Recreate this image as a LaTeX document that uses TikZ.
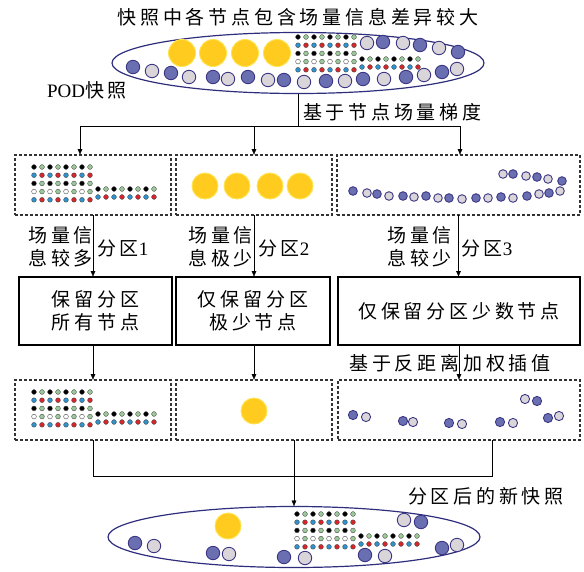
\documentclass[tikz,border=0pt]{standalone}
\usepackage{fontspec}
\setmainfont{Noto Sans CJK SC}[LetterSpace=20]
\newfontfamily\lat{Liberation Serif}
\usetikzlibrary{positioning}
\usetikzlibrary{arrows.meta}
\usetikzlibrary{shapes}
\usepackage{xcolor}
\definecolor{rimc}{HTML}{2F2E7D}
\definecolor{ringline}{HTML}{3C3784}
\definecolor{ringblue}{HTML}{6A6FB1}
\definecolor{ringgrey}{HTML}{D9D5D8}
\definecolor{sunfill}{HTML}{FFCB1F}
\definecolor{sunline}{HTML}{FFE34D}
\definecolor{dotgreen}{HTML}{9CC99A}
\definecolor{dotblue}{HTML}{2E93CF}
\definecolor{dotred}{HTML}{D7262B}
\tikzset{
	-{Latex[length=6pt,width=5pt]},
	x=1pt, y=-1pt,
	line width=1pt,
	every node/.style={font=\fontsize{19}{23}\selectfont, inner sep=0pt, outer sep=0pt},
	snapshot/.style={ellipse, draw=rimc, line width=1.2pt, minimum width=372pt, minimum height=61pt},
	zone/.style={draw=black!80, dash pattern=on 3pt off 2pt, line width=1.2pt, minimum height=60pt},
	procbox/.style={draw, line width=1.2pt, minimum height=68pt, align=center},
	ring/.style={draw=ringline, line width=0.9pt},
	sun/.style={draw=sunline, fill=sunfill, line width=0.9pt},
	smalldot/.style={draw=black!70, line width=0.4pt}
}
% dot matrix of one partition, #1/#2 = first dot
\newcommand{\fieldgrid}[2]{%
	\foreach \r/\ca/\cb in {0/black/dotgreen,1/dotblue/dotred,2/black/dotgreen,3/white/dotgreen,4/dotblue/dotred}
		\foreach \k in {0,2,4,6}{
			\filldraw[smalldot, fill=\ca] ({#1+8*\k},{#2+8.2*\r}) circle (2.4pt);
			\filldraw[smalldot, fill=\cb] ({#1+8*\k+8},{#2+8.2*\r}) circle (2.4pt);
		}
	\foreach \r/\ca/\cb in {0/black/dotgreen,1/dotblue/dotred}
		\foreach \k in {0,2,4,6}{
			\filldraw[smalldot, fill=\ca] ({#1+64+8*\k},{#2+22+8*\r}) circle (2.4pt);
			\filldraw[smalldot, fill=\cb] ({#1+72+8*\k},{#2+22+8*\r}) circle (2.4pt);
		}
}

\begin{document}
\begin{tikzpicture}
	\useasboundingbox (0,0) rectangle (584,571);

	% snapshot before partition
	\node (title) at (298,17) {快照中各节点包含场量信息差异较大};
	\node[snapshot] (snap) at (298,63) {};
	\node (podlbl) at (87,90) {{\lat POD}快照};
	\node[anchor=west] (grad) at (303,112) {基于节点场量梯度};
	\foreach \x in {182,213,245,277} \filldraw[sun] (\x,53) circle (13.5pt);
	\fieldgrid{298}{37}
	\foreach \x/\y/\c in {133/67/ringblue,152/71/ringgrey,171/73/ringblue,189/77/ringgrey,213/77/ringblue,228/79/ringgrey,
		248/77/ringblue,268/80/ringgrey,284/80/ringblue,304/82/ringgrey,326/81/ringblue,345/81/ringgrey,
		363/79/ringblue,384/79/ringgrey,406/77/ringblue,424/75/ringgrey,442/72/ringblue,457/69/ringgrey,
		367/43/ringgrey,383/42/ringblue,403/43/ringgrey,420/45/ringblue,439/48/ringgrey,458/52/ringblue}
		\filldraw[ring, fill=\c] (\x,\y) circle (6.7pt);

	% partitions
	\node[zone, minimum width=156pt] (z1) at (93,185) {};
	\node[zone, minimum width=156pt] (z2) at (254,185) {};
	\node[zone, minimum width=243pt] (z3) at (458.5,185) {};
	\fieldgrid{34}{167}
	\foreach \x in {205,237,270,300} \filldraw[sun] (\x,186) circle (13pt);
	\foreach \x/\y/\c in {353/191/ringblue,367/193/ringgrey,377/194/ringblue,389/196/ringgrey,403/196/ringblue,414/197/ringgrey,
		426/196/ringblue,438/198/ringgrey,449/198/ringblue,462/199/ringgrey,476/198/ringblue,488/198/ringgrey,
		501/197/ringblue,513/198/ringgrey,527/196/ringblue,539/194/ringgrey,549/193/ringblue,560/191/ringgrey,
		503/174/ringgrey,513/174/ringblue,526/176/ringgrey,537/177/ringblue,548/179/ringgrey,562/181/ringblue}
		\filldraw[ring, fill=\c] (\x,\y) circle (4.3pt);

	\node[anchor=east, align=left] (l1) at (93,247) {场量信\\息较多};
	\node[anchor=west] (n1) at (97,248) {分区{\lat 1}};
	\node[anchor=east, align=left] (l2) at (253,247) {场量信\\息极少};
	\node[anchor=west] (n2) at (258,248) {分区{\lat 2}};
	\node[anchor=east, align=left] (l3) at (452,247) {场量信\\息较少};
	\node[anchor=west] (n3) at (461,248) {分区{\lat 3}};

	\node[procbox, minimum width=153pt] (p1) at (95.5,311) {保留分区\\所有节点};
	\node[procbox, minimum width=154pt] (p2) at (253,311) {仅保留分区\\极少节点};
	\node[procbox, minimum width=242pt] (p3) at (459,311) {仅保留分区少数节点};
	\node (idw) at (450,363) {基于反距离加权插值};

	\node[zone, minimum width=156pt] (q1) at (93,410) {};
	\node[zone, minimum width=156pt] (q2) at (254,410) {};
	\node[zone, minimum width=242pt] (q3) at (459,410) {};
	\fieldgrid{34}{392}
	\filldraw[sun] (254,411) circle (13pt);
	\foreach \x/\y/\c in {353/415/ringblue,366/417/ringgrey,403/421/ringblue,413/422/ringgrey,449/423/ringblue,462/424/ringgrey,
		500/422/ringblue,513/423/ringgrey,525/399/ringgrey,537/401/ringblue,548/418/ringblue,559/416/ringgrey}
		\filldraw[ring, fill=\c] (\x,\y) circle (4.6pt);

	% snapshot after partition
	\node[snapshot] (snap2) at (294,537) {};
	\node[anchor=west] (newlbl) at (408,496) {分区后的新快照};
	\filldraw[sun] (228,526) circle (13pt);
	\fieldgrid{297}{514}
	\foreach \x/\y/\c in {135/543/ringblue,154/546/ringgrey,213/553/ringblue,229/554/ringgrey,284/557/ringblue,305/558/ringgrey,
		365/555/ringblue,385/556/ringgrey,404/520/ringgrey,421/522/ringblue,442/548/ringblue,457/545/ringgrey}
		\filldraw[ring, fill=\c] (\x,\y) circle (6.7pt);

	% connectors
	\coordinate (sL) at (80,126);
	\coordinate (sR) at (460,126);
	\draw[-] (snap.south) -- (snap.south |- sL);
	\draw[-] (sL) -- (sR);
	\draw (sL) -- (sL |- z1.north);
	\draw (z2.north |- sL) -- (z2.north);
	\draw (sR) -- (sR |- z3.north);

	\draw (z1.south) -- (z1.south |- p1.north);
	\draw (z2.south) -- (z2.south |- p2.north);
	\draw (z3.south) -- (z3.south |- p3.north);
	\draw (z1.south |- p1.south) -- (z1.south |- q1.north);
	\draw (z2.south |- p2.south) -- (z2.south |- q2.north);
	\draw (p3.south) -- (p3.south |- q3.north);

	\coordinate (mL) at (93,476);
	\coordinate (mR) at (492,476);
	\draw[-] (q1.south) -- (mL) -- (mR) -- (mR |- q3.south);
	\draw (snap2.north |- q2.south) -- (snap2.north);
\end{tikzpicture}
\end{document}
